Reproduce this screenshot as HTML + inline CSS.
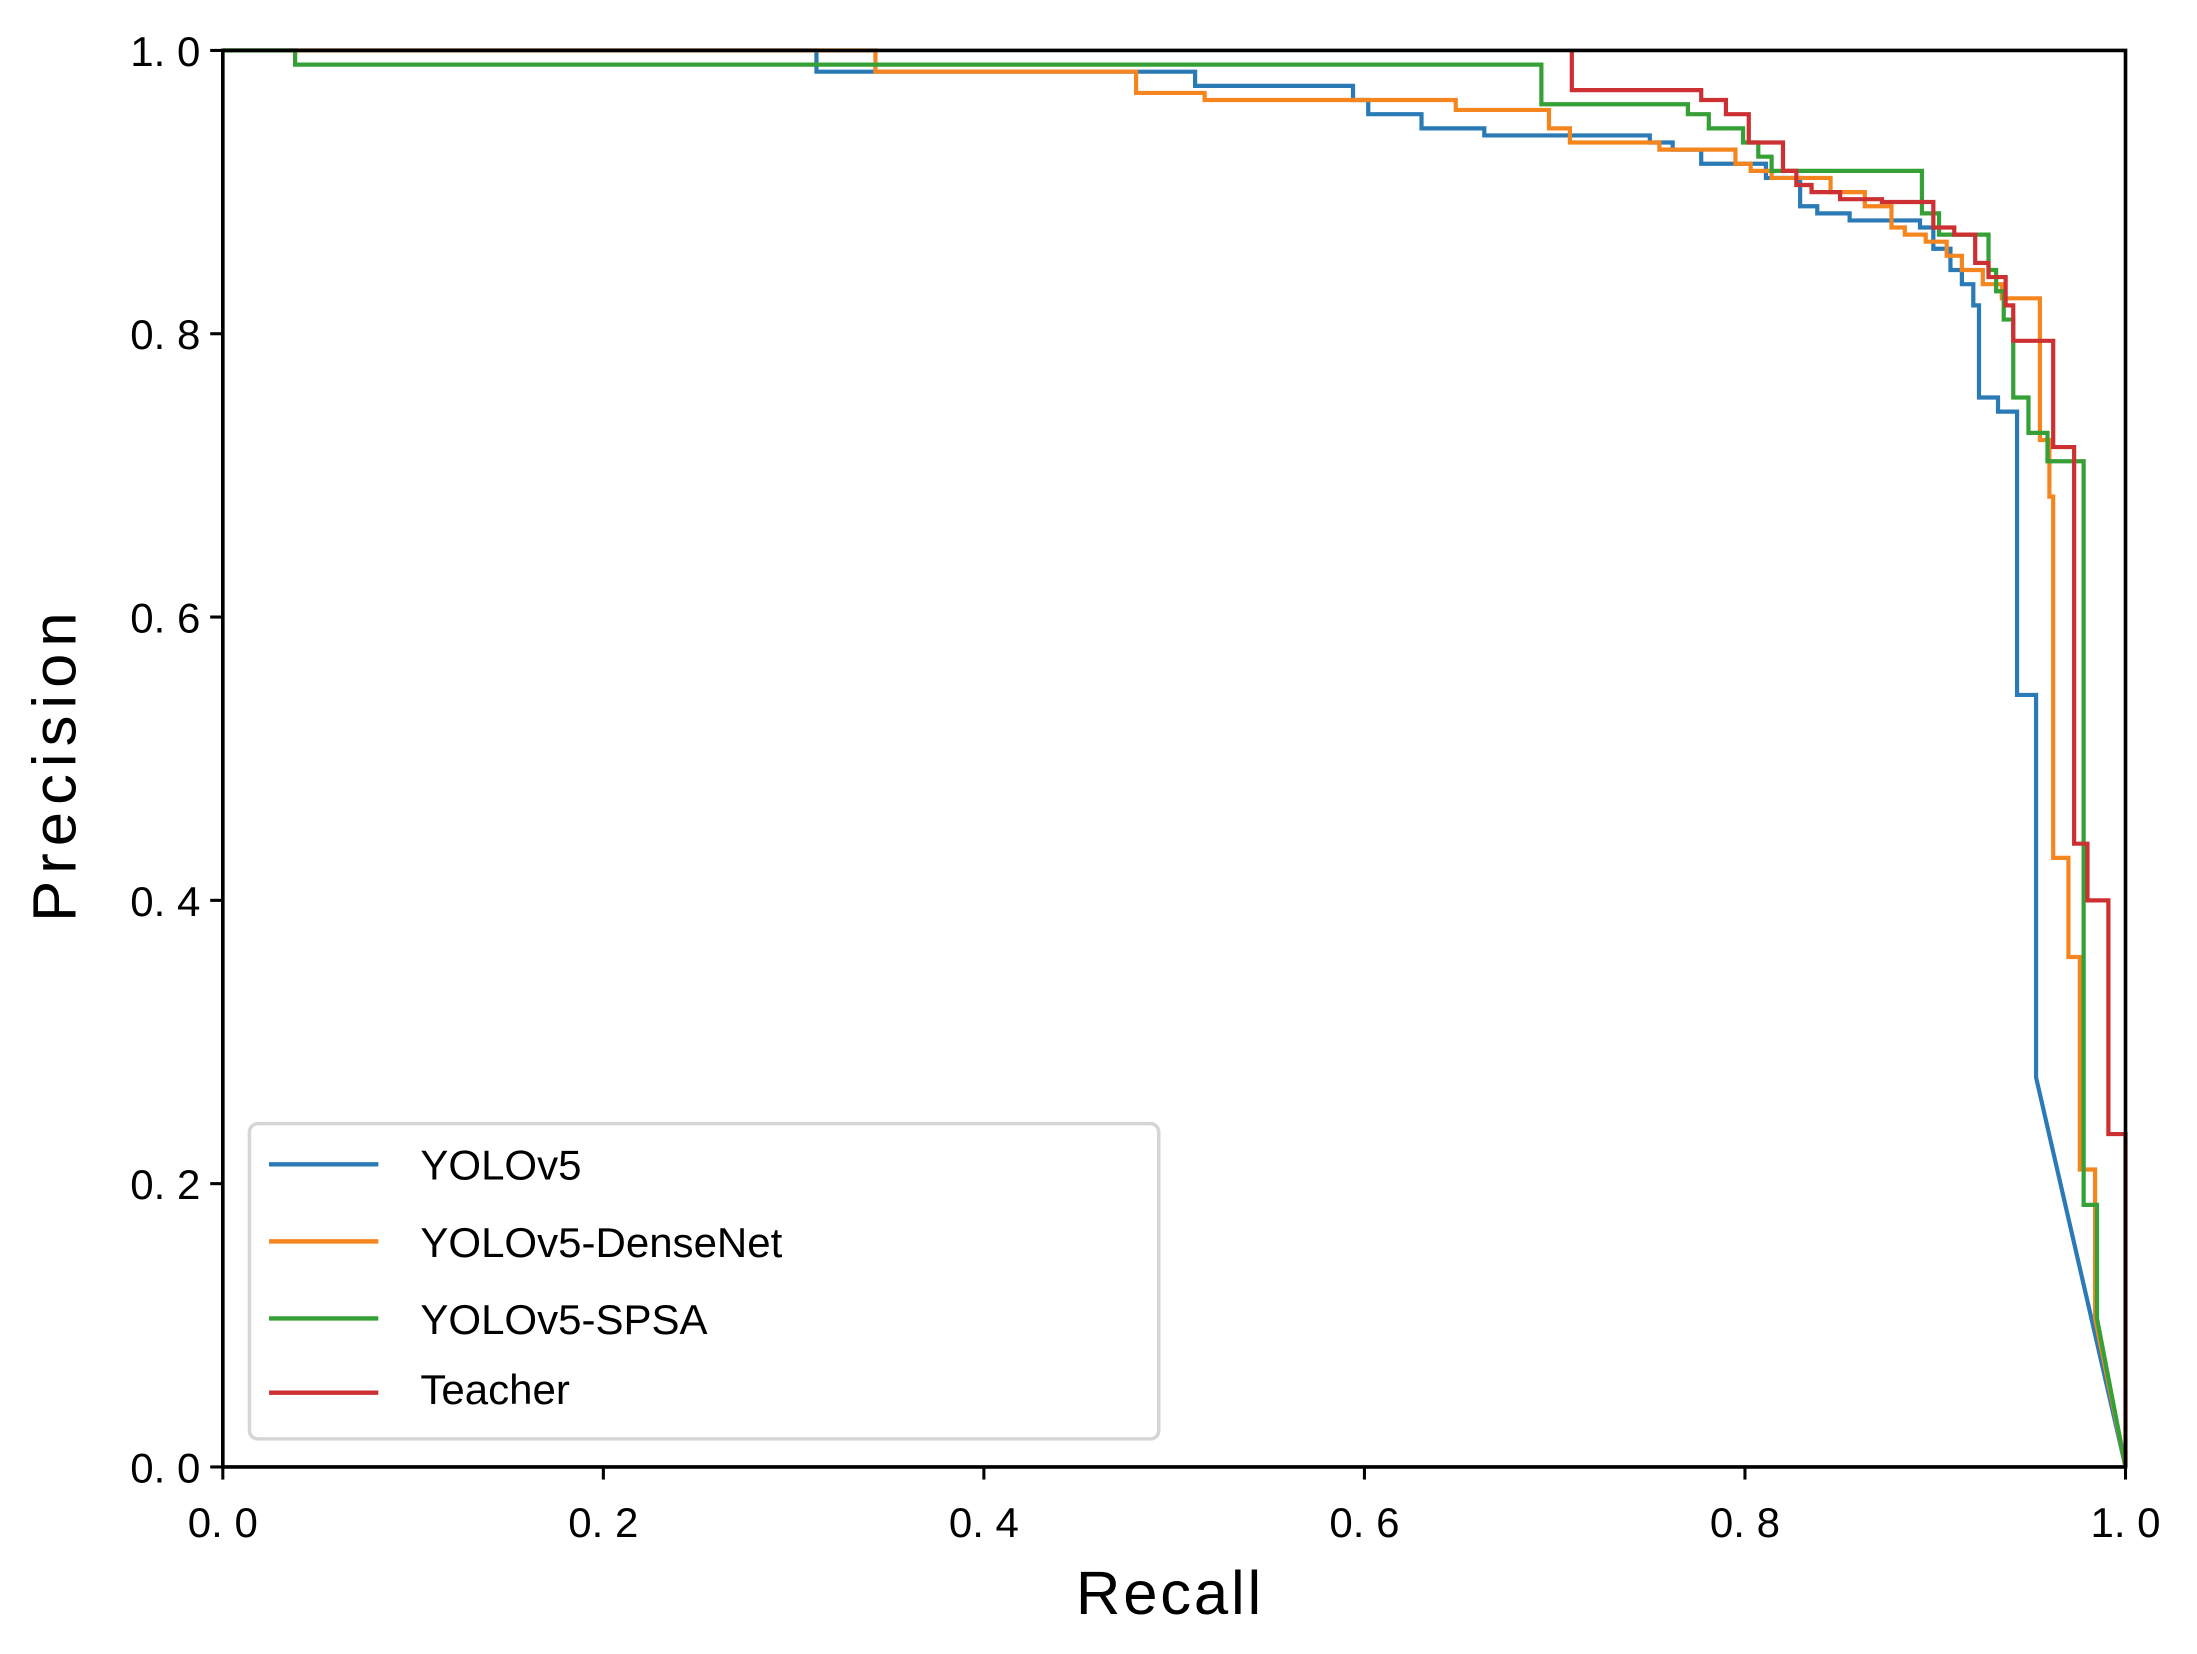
<!DOCTYPE html>
<html><head><meta charset="utf-8"><style>
html,body{margin:0;padding:0;background:#fff}
svg{display:block}
text{font-family:"Liberation Sans","Noto Sans CJK JP",sans-serif;fill:#000}
</style></head><body>
<svg id="chart" width="2197" height="1654" viewBox="0 0 1568 1180.5" xmlns="http://www.w3.org/2000/svg">
<g id="series"></g>
<rect x="159" y="36" width="1358" height="1011" fill="none" stroke="#000" stroke-width="2.6"/>
<g id="ticks"></g>
<text x="835" y="1152" font-size="44" text-anchor="middle" letter-spacing="2">Recall</text>
<text transform="translate(54,545) rotate(-90)" font-size="44" text-anchor="middle" letter-spacing="5">Precision</text>
<g>
<rect x="178" y="802" width="649" height="225" rx="6" fill="#fff" fill-opacity="0.8" stroke="#d6d6d6" stroke-width="2.5"/>
<line x1="192" y1="831" x2="270" y2="831" stroke="#2a7ab6" stroke-width="3.2"/>
<text x="300" y="842" font-size="30">YOLOv5</text>
<line x1="192" y1="886" x2="270" y2="886" stroke="#f5861f" stroke-width="3.2"/>
<text x="300" y="897" font-size="30">YOLOv5-DenseNet</text>
<line x1="192" y1="941" x2="270" y2="941" stroke="#34a035" stroke-width="3.2"/>
<text x="300" y="952" font-size="30">YOLOv5-SPSA</text>
<line x1="192" y1="994" x2="270" y2="994" stroke="#cc3033" stroke-width="3.2"/>
<text x="300" y="1002" font-size="30">Teacher</text>
</g>
</svg>
<script>
const tickValues = [0, 0.2, 0.4, 0.6, 0.8, 1.0];
const tickLabels = ["0. 0", "0. 2", "0. 4", "0. 6", "0. 8", "1. 0"];
const seriesNames = ["YOLOv5", "YOLOv5-DenseNet", "YOLOv5-SPSA", "Teacher"];
const seriesColors = ["#2a7ab6", "#f5861f", "#34a035", "#cc3033"];
const yoloRecall = [0,0.312,0.511,0.594,0.602,0.63,0.663,0.75,0.762,0.777,0.811,0.829,0.838,0.855,0.892,0.899,0.908,0.914,0.92,0.923,0.933,0.943,0.953];
const yoloPrecision = [1.0,0.985,0.975,0.965,0.955,0.945,0.94,0.935,0.93,0.92,0.91,0.89,0.885,0.88,0.875,0.86,0.845,0.835,0.82,0.755,0.745,0.545,0.275];
const denseRecall = [0,0.343,0.48,0.516,0.648,0.697,0.708,0.755,0.795,0.803,0.814,0.845,0.863,0.877,0.884,0.895,0.906,0.914,0.925,0.935,0.955,0.96,0.962,0.97,0.976,0.984];
const densePrecision = [1.0,0.985,0.97,0.965,0.958,0.945,0.935,0.93,0.92,0.915,0.91,0.9,0.89,0.875,0.87,0.865,0.855,0.845,0.835,0.825,0.725,0.685,0.43,0.36,0.21,0.105];
const spsaRecall = [0,0.038,0.693,0.77,0.781,0.799,0.807,0.814,0.893,0.902,0.928,0.932,0.936,0.941,0.949,0.959,0.978,0.985];
const spsaPrecision = [1.0,0.99,0.962,0.955,0.945,0.935,0.925,0.915,0.885,0.87,0.845,0.83,0.81,0.755,0.73,0.71,0.185,0.105];
const teacherRecall = [0.709,0.709,0.777,0.79,0.802,0.82,0.827,0.835,0.85,0.872,0.899,0.91,0.921,0.928,0.937,0.941,0.962,0.973,0.98,0.991,1.0];
const teacherPrecision = [1.0,0.972,0.965,0.955,0.935,0.915,0.905,0.9,0.895,0.893,0.875,0.87,0.85,0.84,0.82,0.795,0.72,0.44,0.4,0.235,0.235];

const NS = "http://www.w3.org/2000/svg";
const X0 = 159, X1 = 1517, Y0 = 1047, Y1 = 36;
function xScale(r){ return X0 + (X1 - X0) * r; }
function yScale(p){ return Y0 - (Y0 - Y1) * p; }

const tg = document.getElementById('ticks');
tickValues.forEach((v, i) => {
  const xt = document.createElementNS(NS, 'line');
  xt.setAttribute('x1', xScale(v)); xt.setAttribute('x2', xScale(v));
  xt.setAttribute('y1', Y0); xt.setAttribute('y2', Y0 + 9);
  xt.setAttribute('stroke', '#000'); xt.setAttribute('stroke-width', '2.2');
  
  
  tg.appendChild(xt);
  const xl = document.createElementNS(NS, 'text');
  xl.setAttribute('x', xScale(v)); xl.setAttribute('y', Y0 + 50);
  xl.setAttribute('font-size', '30'); xl.setAttribute('text-anchor', 'middle');
  xl.textContent = tickLabels[i];
  
  
  tg.appendChild(xl);
  const yt = document.createElementNS(NS, 'line');
  yt.setAttribute('x1', X0 - 9); yt.setAttribute('x2', X0);
  yt.setAttribute('y1', yScale(v)); yt.setAttribute('y2', yScale(v));
  yt.setAttribute('stroke', '#000'); yt.setAttribute('stroke-width', '2.2');
  
  
  tg.appendChild(yt);
  const yl = document.createElementNS(NS, 'text');
  yl.setAttribute('x', X0 - 16); yl.setAttribute('y', yScale(v) + 11);
  yl.setAttribute('font-size', '30'); yl.setAttribute('text-anchor', 'end');
  yl.textContent = tickLabels[i];
  
  
  tg.appendChild(yl);
});

const sg = document.getElementById('series');
const allR = [yoloRecall, denseRecall, spsaRecall, teacherRecall];
const allP = [yoloPrecision, densePrecision, spsaPrecision, teacherPrecision];
allR.forEach((R, s) => {
  const P = allP[s];
  let d = 'M' + xScale(R[0]) + ',' + yScale(P[0]);
  for (let i = 1; i < R.length; i++) {
    d += ' H' + xScale(R[i]) + ' V' + yScale(P[i]);
  }
  d += ' L' + xScale(1) + ',' + yScale(0);
  const path = document.createElementNS(NS, 'path');
  path.setAttribute('d', d);
  path.setAttribute('fill', 'none');
  path.setAttribute('stroke', seriesColors[s]);
  path.setAttribute('stroke-width', '3');
  
  
  sg.appendChild(path);
});
</script>
</body></html>
